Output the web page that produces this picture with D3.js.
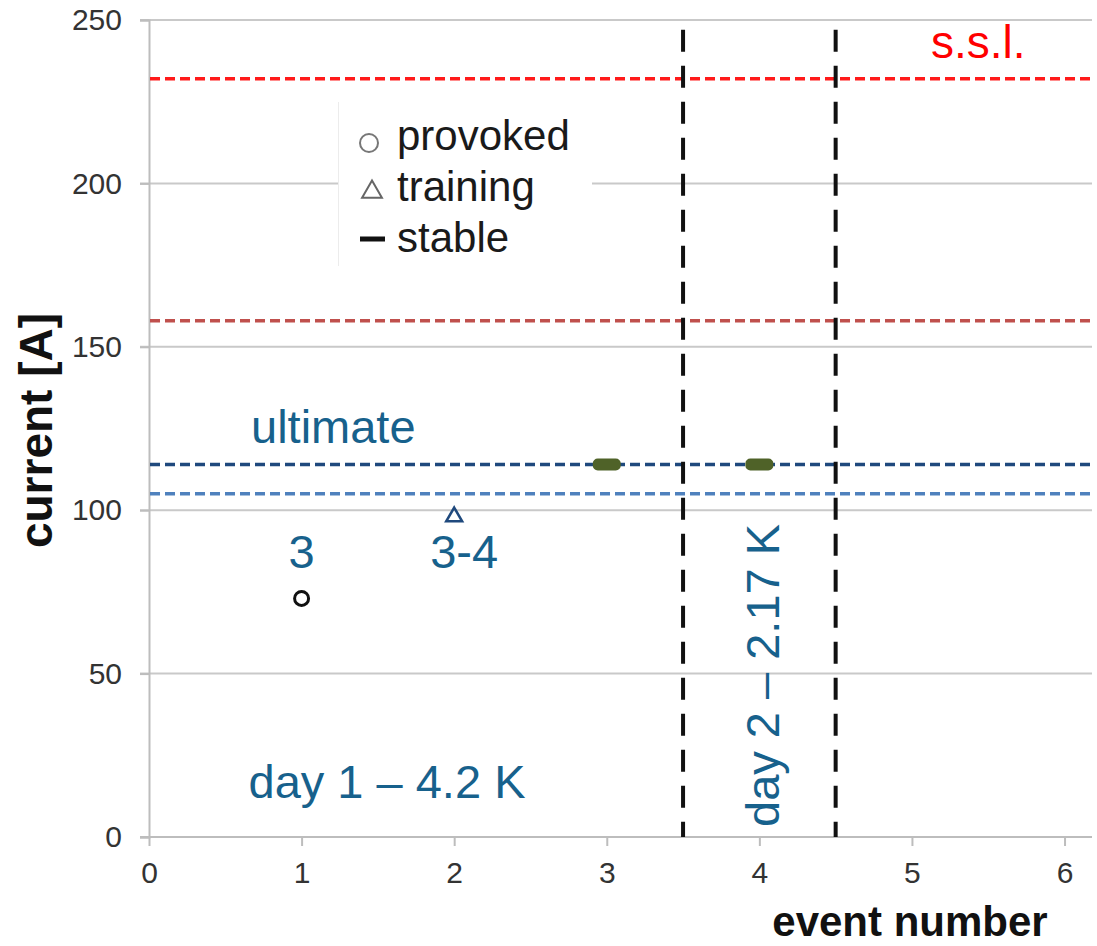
<!DOCTYPE html>
<html>
<head>
<meta charset="utf-8">
<script src="https://cdn.jsdelivr.net/npm/d3@7"></script>
<style>
  html, body { margin: 0; padding: 0; background: #fff; }
  svg { display: block; font-family: "Liberation Sans", Arial, sans-serif; }
</style>
</head>
<body>
<svg id="chart" width="1097" height="946"></svg>
<script>
// ---- data ----
const xTicks = [0, 1, 2, 3, 4, 5, 6];
const yTicks = [0, 50, 100, 150, 200, 250];

// reference current levels (A)
const levelNames = ["s.s.l. top", "s.s.l. lower", "ultimate", "nominal"];
const levelValues = [232, 158, 114, 105];

// quench events
const provokedEvents = [1];
const provokedCurrents = [73];
const trainingEvents = [2];
const trainingCurrents = [98];
const stableEvents = [3, 4];
const stableCurrents = [114, 114];

// boundaries between test days (event number)
const dayBoundaries = [3.5, 4.5];

const legendLabels = ["provoked", "training", "stable"];

// ---- layout ----
const svg = d3.select("#chart");
const x = d3.scaleLinear().domain([0, 6.18]).range([149, 1092]);
const y = d3.scaleLinear().domain([0, 250]).range([837, 20]);

const levelColors = ["#ff1a1a", "#c0504d", "#1f497d", "#4f81bd"];
const textBlue = "#17618c";

// horizontal gridlines
svg.append("g")
  .selectAll("line")
  .data(yTicks.filter(d => d > 0))
  .join("line")
  .attr("x1", 140).attr("x2", x.range()[1])
  .attr("y1", d => y(d)).attr("y2", d => y(d))
  .attr("stroke", "#c9c9c9").attr("stroke-width", 2);

// y axis
const yAxis = svg.append("g")
  .attr("transform", `translate(${x(0)},0)`)
  .call(d3.axisLeft(y).tickValues(yTicks).tickSize(9).tickPadding(18));
yAxis.select(".domain").attr("stroke", "#bdbdbd").attr("stroke-width", 2);
yAxis.selectAll(".tick line").attr("stroke", "#bdbdbd").attr("stroke-width", 2);
yAxis.selectAll(".tick text")
  .attr("font-size", 30).attr("fill", "#333")
  .attr("font-family", "Liberation Sans, Arial, sans-serif");

// x axis
const xAxis = svg.append("g")
  .attr("transform", `translate(0,${y(0)})`)
  .call(d3.axisBottom(x).tickValues(xTicks).tickFormat(d3.format("d")).tickSize(9).tickPadding(16));
xAxis.select(".domain").remove();
xAxis.append("line")
  .attr("x1", 140).attr("x2", x.range()[1])
  .attr("stroke", "#bdbdbd").attr("stroke-width", 2);
xAxis.selectAll(".tick line").attr("stroke", "#bdbdbd").attr("stroke-width", 2);
xAxis.selectAll(".tick text")
  .attr("font-size", 30).attr("fill", "#333")
  .attr("font-family", "Liberation Sans, Arial, sans-serif");

// axis titles
svg.append("text")
  .attr("transform", `translate(52,${y(125) + 2}) rotate(-90)`)
  .attr("text-anchor", "middle")
  .attr("font-size", 46).attr("font-weight", "bold").attr("fill", "#111")
  .text("current [A]");
svg.append("text")
  .attr("x", 910).attr("y", 936)
  .attr("text-anchor", "middle")
  .attr("font-size", 42).attr("font-weight", "bold").attr("fill", "#111")
  .text("event number");

// legend box (drawn above gridlines)
const legend = svg.append("g");
legend.append("rect")
  .attr("x", 338).attr("y", 100).attr("width", 254).attr("height", 168)
  .attr("fill", "#fff");
legend.append("line")
  .attr("x1", 338.5).attr("x2", 338.5).attr("y1", 102).attr("y2", 266)
  .attr("stroke", "#ececec").attr("stroke-width", 1);
const legendRows = legend.selectAll("g.row")
  .data(legendLabels)
  .join("g")
  .attr("class", "row")
  .attr("transform", (d, i) => `translate(0,${150 + i * 51})`);
legendRows.append("text")
  .attr("x", 397).attr("y", 0)
  .attr("font-size", 42).attr("fill", "#1a1a1a")
  .text(d => d);
legend.append("circle")
  .attr("cx", 369).attr("cy", 143).attr("r", 9)
  .attr("fill", "none").attr("stroke", "#777").attr("stroke-width", 2);
legend.append("path")
  .attr("d", d3.symbol(d3.symbolTriangle, 170)())
  .attr("transform", "translate(372,192)")
  .attr("fill", "none").attr("stroke", "#666").attr("stroke-width", 2);
legend.append("line")
  .attr("x1", 360).attr("x2", 385).attr("y1", 239).attr("y2", 239)
  .attr("stroke", "#111").attr("stroke-width", 5);

// reference level lines
svg.append("g")
  .selectAll("line")
  .data(levelValues)
  .join("line")
  .attr("x1", x(0) + 1).attr("x2", x.range()[1])
  .attr("y1", d => y(d)).attr("y2", d => y(d))
  .attr("stroke", (d, i) => levelColors[i])
  .attr("stroke-width", 3.5)
  .attr("stroke-dasharray", "10 5");

// day boundaries
svg.append("g")
  .selectAll("line")
  .data(dayBoundaries)
  .join("line")
  .attr("x1", d => x(d)).attr("x2", d => x(d))
  .attr("y1", y(247)).attr("y2", y(0))
  .attr("stroke", "#111").attr("stroke-width", 4)
  .attr("stroke-dasharray", "22 14");

// stable events
svg.append("g")
  .selectAll("rect")
  .data(stableEvents.map((e, i) => [e, stableCurrents[i]]))
  .join("rect")
  .attr("x", d => x(d[0]) - 14).attr("y", d => y(d[1]) - 6)
  .attr("width", 28).attr("height", 12)
  .attr("rx", 5)
  .attr("fill", "#4f6228");

// provoked quench
svg.append("g")
  .selectAll("circle")
  .data(provokedEvents.map((e, i) => [e, provokedCurrents[i]]))
  .join("circle")
  .attr("cx", d => x(d[0])).attr("cy", d => y(d[1]))
  .attr("r", 7)
  .attr("fill", "none").attr("stroke", "#111").attr("stroke-width", 3);

// training quench
svg.append("g")
  .selectAll("path")
  .data(trainingEvents.map((e, i) => [e, trainingCurrents[i]]))
  .join("path")
  .attr("d", d3.symbol(d3.symbolTriangle, 110)())
  .attr("transform", d => `translate(${x(d[0])},${y(d[1])})`)
  .attr("fill", "none").attr("stroke", "#1f497d").attr("stroke-width", 2.5);

// annotations
const ann = svg.append("g").attr("fill", textBlue).attr("font-size", 47);
ann.append("text")
  .attr("x", x(provokedEvents[0])).attr("y", y(provokedCurrents[0]) - 30)
  .attr("text-anchor", "middle").text("3");
ann.append("text")
  .attr("x", x(trainingEvents[0]) + 10).attr("y", y(provokedCurrents[0]) - 30)
  .attr("text-anchor", "middle").text("3-4");
ann.append("text")
  .attr("x", 251).attr("y", y(levelValues[2]) - 21)
  .text("ultimate");
ann.append("text")
  .attr("x", 387).attr("y", 798)
  .attr("text-anchor", "middle").text("day 1 – 4.2 K");
ann.append("text")
  .attr("transform", `translate(779,${y(0) - 10}) rotate(-90)`)
  .text("day 2 – 2.17 K");
svg.append("text")
  .attr("x", 931).attr("y", y(levelValues[0]) - 21)
  .attr("font-size", 46).attr("fill", "#ff0000")
  .text("s.s.l.");
</script>
</body>
</html>
